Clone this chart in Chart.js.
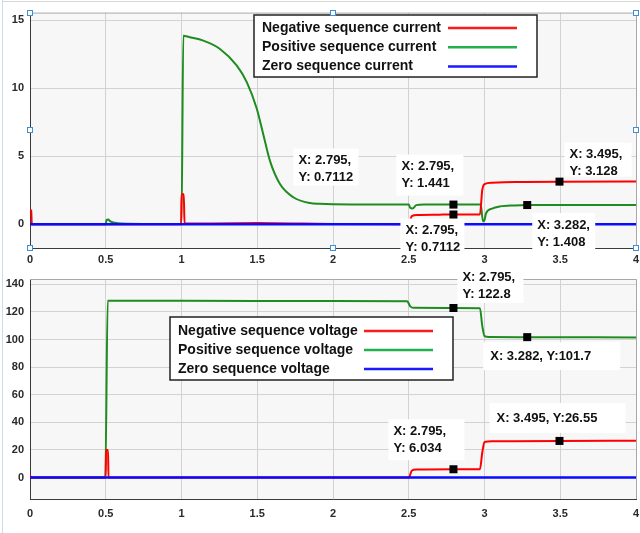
<!DOCTYPE html>
<html>
<head>
<meta charset="utf-8">
<script src="https://cdn.jsdelivr.net/npm/chart.js@4.4.0/dist/chart.umd.min.js"></script>
<style>
  html, body { margin: 0; padding: 0; background: #fff; }
  #page { position: relative; width: 640px; height: 533px; overflow: hidden; }
  #page:before { content: ''; position: absolute; left: 2px; top: 0; bottom: 0; border-left: 1px solid #c9dcf0; }
  #page:after { content: ''; position: absolute; left: 2px; right: 0; top: 1px; border-top: 1px solid #d6d6d6; }
  canvas { position: absolute; left: 0; }
  #currentChart { top: 0; }
  #voltageChart { top: 266px; }
</style>
</head>
<body>
<div id="page">
  <canvas id="currentChart" width="640" height="266"></canvas>
  <canvas id="voltageChart" width="640" height="267"></canvas>
</div>
<script>
// ---- sequence currents (A) ----
var negCurrentT = [0, 0.008, 0.012, 0.998, 1.0, 1.015, 1.02, 1.2, 1.5, 1.8, 2.0, 2.5, 2.52, 2.56, 2.7, 2.795, 2.97, 2.985, 3.0, 3.05, 3.2, 3.495, 4];
var negCurrentI = [1.05, 1.0, 0, 0, 2.2, 2.2, 0.05, 0.05, 0.08, 0.05, 0.02, 0, 0.6, 0.68, 0.7, 0.7112, 0.72, 2.5, 2.95, 3.05, 3.1, 3.128, 3.13];

var posCurrentT = [0, 0.5, 0.505, 0.515, 0.53, 0.56, 0.6, 0.8, 1.0, 1.012, 1.05, 1.144, 1.254, 1.364, 1.43, 1.496, 1.54, 1.584, 1.65, 1.738, 1.848, 1.914, 2.0, 2.3, 2.5, 2.51, 2.525, 2.55, 2.6, 2.795, 2.975, 2.99, 3.0, 3.01, 3.05, 3.1, 3.2, 3.282, 3.5, 4];
var posCurrentI = [0, 0, 0.3, 0.35, 0.2, 0.1, 0.05, 0.02, 0.02, 13.85, 13.75, 13.49, 12.88, 11.67, 10.46, 8.52, 6.59, 4.65, 2.95, 1.98, 1.55, 1.5, 1.47, 1.45, 1.45, 1.2, 1.15, 1.4, 1.44, 1.441, 1.44, 0.2, 0.3, 0.8, 1.15, 1.3, 1.38, 1.408, 1.41, 1.41];

var zeroCurrentT = [0, 4];
var zeroCurrentI = [0, 0];

// ---- sequence voltages (V) ----
var negVoltageT = [0, 0.005, 0.5, 0.502, 0.515, 0.518, 2.5, 2.52, 2.55, 2.795, 2.97, 2.985, 3.0, 3.05, 3.495, 4];
var negVoltageV = [2, 0, 0, 20, 20, 0, 0, 5, 5.8, 6.034, 6.1, 18, 25.8, 26.3, 26.55, 26.6];

var posVoltageT = [0, 0.497, 0.513, 1.0, 2.0, 2.49, 2.51, 2.53, 2.795, 2.97, 2.985, 3.0, 3.03, 3.282, 4];
var posVoltageV = [0, 0, 128, 128, 127.8, 127.6, 124, 122.9, 122.8, 122.7, 110, 102.5, 101.8, 101.7, 101.5];

var zeroVoltageT = [0, 4];
var zeroVoltageV = [0, 0];

// ---- axes ----
var timeTicks = [0, 0.5, 1, 1.5, 2, 2.5, 3, 3.5, 4];
var currentTicks = [0, 5, 10, 15];
var voltageTicks = [0, 20, 40, 60, 80, 100, 120, 140];

// ---- data cursors ----
var currentTipX = [2.795, 2.795, 3.495, 3.282];
var currentTipY = [1.441, 0.7112, 3.128, 1.408];
var voltageTipX = [2.795, 3.282, 3.495, 2.795];
var voltageTipY = [122.8, 101.7, 26.55, 6.034];

var RED = '#ff0000', GREEN = '#1e8c1e', BLUE = '#0a0aff';
var TICK_FONT = { family: '"Liberation Sans", Arial, sans-serif', size: 11, weight: 'bold' };
var TEXT_FONT = 'bold 13px "Liberation Sans", Arial, sans-serif';

function pts(t, v) {
  return t.map(function (x, i) { return { x: x, y: v[i] }; });
}

function line(label, t, v, color, order, width) {
  return {
    label: label,
    data: pts(t, v),
    borderColor: color,
    borderWidth: width || 2,
    pointRadius: 0,
    cubicInterpolationMode: 'monotone',
    order: order
  };
}

function markers(xs, ys) {
  return {
    label: 'cursor',
    data: pts(xs, ys),
    showLine: false,
    pointStyle: 'rect',
    pointRadius: 4,
    pointBackgroundColor: '#000',
    pointBorderColor: '#000',
    pointBorderWidth: 0,
    order: -1
  };
}

// plot background, box edges, legend, cursor labels and selection handles
var decor = {
  id: 'decor',
  beforeDraw: function (chart) {
    var a = chart.chartArea, ctx = chart.ctx;
    ctx.save();
    ctx.fillStyle = '#f7f7f7';
    ctx.fillRect(a.left, a.top, a.right - a.left, a.bottom - a.top);
    ctx.restore();
  },
  afterDraw: function (chart, args, opts) {
    var a = chart.chartArea, ctx = chart.ctx;
    ctx.save();

    // top and right edges of the axes box
    ctx.strokeStyle = '#a8a8a8';
    ctx.lineWidth = 1;
    ctx.beginPath();
    ctx.moveTo(a.left, a.top + 0.5);
    ctx.lineTo(a.right + 0.5, a.top + 0.5);
    ctx.lineTo(a.right + 0.5, a.bottom);
    ctx.stroke();

    // cursor labels
    var last = chart.data.datasets.length - 1;
    var mk = chart.getDatasetMeta(last).data;
    ctx.font = TEXT_FONT;
    ctx.textBaseline = 'middle';
    ctx.textAlign = 'left';
    opts.tips.forEach(function (b) {
      var p = mk[b.tip];
      var d = chart.data.datasets[last].data[b.tip];
      var bx = p.x + b.dx, by = p.y + b.dy;
      ctx.fillStyle = '#fff';
      ctx.fillRect(bx, by, b.w, b.h);
      ctx.fillStyle = '#111';
      if (b.oneLine) {
        ctx.fillText('X: ' + d.x + ', Y:' + d.y, bx + 7, by + b.h / 2);
      } else {
        ctx.fillText('X: ' + d.x + ',', bx + 5, by + 12);
        ctx.fillText('Y: ' + d.y, bx + 5, by + 29);
      }
    });

    // markers stay above the label boxes
    mk.forEach(function (p) {
      ctx.fillStyle = '#000';
      ctx.fillRect(p.x - 4, p.y - 4, 8, 8);
    });

    // legend
    var L = opts.legend;
    ctx.fillStyle = '#fff';
    ctx.fillRect(L.x, L.y, L.w, L.h);
    ctx.strokeStyle = '#222';
    ctx.lineWidth = 1.5;
    ctx.strokeRect(L.x, L.y, L.w, L.h);
    ctx.font = 'bold 14px "Liberation Sans", Arial, sans-serif';
    L.rows.forEach(function (r, i) {
      var ry = L.y + L.first + i * L.step;
      ctx.fillStyle = '#111';
      ctx.fillText(r.text, L.x + 8, ry);
      ctx.strokeStyle = r.color;
      ctx.lineWidth = 2.5;
      ctx.beginPath();
      ctx.moveTo(L.x + 194, ry);
      ctx.lineTo(L.x + 263, ry);
      ctx.stroke();
    });

    // selection handles
    if (opts.handles) {
      var mx = (a.left + a.right) / 2, my = (a.top + a.bottom) / 2;
      var hs = [[a.left, a.top], [mx, a.top], [a.right, a.top], [a.left, my], [a.right, my], [a.left, a.bottom], [mx, a.bottom], [a.right, a.bottom]];
      ctx.lineWidth = 1;
      hs.forEach(function (h) {
        ctx.fillStyle = '#fff';
        ctx.fillRect(Math.round(h[0]) - 3, Math.round(h[1]) - 3, 6, 6);
        ctx.strokeStyle = '#3d8fd6';
        ctx.strokeRect(Math.round(h[0]) - 2.5, Math.round(h[1]) - 2.5, 5, 5);
      });
    }
    ctx.restore();
  }
};

function makeChart(id, datasets, yMin, yMax, yTicks, pad, xAxisH, xPad, decorOpts) {
  return new Chart(document.getElementById(id), {
    type: 'line',
    data: { datasets: datasets },
    plugins: [decor],
    options: {
      responsive: false,
      animation: false,
      layout: { padding: pad },
      scales: {
        x: {
          type: 'linear',
          min: 0,
          max: 4,
          afterBuildTicks: function (s) { s.ticks = timeTicks.map(function (v) { return { value: v }; }); },
          afterFit: function (s) {
            s.height = xAxisH;
            s.paddingLeft = 0;
            s.paddingRight = 0;
          },
          grid: { color: '#d2d2d2', drawTicks: false },
          border: { color: '#3a3a3a', width: 1 },
          ticks: {
            padding: xPad, color: '#2a2a2a', font: TICK_FONT, maxRotation: 0, autoSkip: false,
            callback: function (v) { return String(v); }
          }
        },
        y: {
          min: yMin,
          max: yMax,
          afterBuildTicks: function (s) { s.ticks = yTicks.map(function (v) { return { value: v }; }); },
          afterFit: function (s) { s.width = 30; },
          grid: { color: '#d2d2d2', drawTicks: false },
          border: { color: '#3a3a3a', width: 1 },
          ticks: { padding: 6, color: '#2a2a2a', font: TICK_FONT, callback: function (v) { return String(v); } }
        }
      },
      plugins: {
        legend: { display: false },
        tooltip: { enabled: false },
        decor: decorOpts
      }
    }
  });
}

makeChart('currentChart', [
  line('Negative sequence current', negCurrentT, negCurrentI, RED, 1),
  line('Positive sequence current', posCurrentT, posCurrentI, GREEN, 2),
  line('Zero sequence current', zeroCurrentT, zeroCurrentI, BLUE, 0, 2.5),
  markers(currentTipX, currentTipY)
], -1.75, 15.55, currentTicks, { left: 0, right: 4, top: 10, bottom: 0 }, 18, 5, {
  handles: true,
  legend: {
    x: 254, y: 15, w: 283, h: 62, first: 13, step: 19.3,
    rows: [
      { text: 'Negative sequence current', color: '#ff1a1a' },
      { text: 'Positive sequence current', color: '#22b14c' },
      { text: 'Zero sequence current', color: '#1a1aff' }
    ]
  },
  tips: [
    { tip: 1, dx: -160, dy: -66, w: 65, h: 37 },
    { tip: 0, dx: -57, dy: -50, w: 67, h: 41 },
    { tip: 2, dx: 5, dy: -39, w: 67, h: 34 },
    { tip: 1, dx: -53, dy: 4, w: 64, h: 34 },
    { tip: 3, dx: 5, dy: 8, w: 63, h: 37 }
  ]
});

makeChart('voltageChart', [
  line('Negative sequence voltage', negVoltageT, negVoltageV, RED, 1),
  line('Positive sequence voltage', posVoltageT, posVoltageV, GREEN, 2),
  line('Zero sequence voltage', zeroVoltageT, zeroVoltageV, BLUE, 0, 2.5),
  markers(voltageTipX, voltageTipY)
], -15.5, 143.8, voltageTicks, { left: 0, right: 4, top: 13, bottom: 0 }, 34, 8, {
  handles: false,
  legend: {
    x: 170, y: 51, w: 283, h: 63, first: 14, step: 19,
    rows: [
      { text: 'Negative sequence voltage', color: '#ff1a1a' },
      { text: 'Positive sequence voltage', color: '#22b14c' },
      { text: 'Zero sequence voltage', color: '#1a1aff' }
    ]
  },
  tips: [
    { tip: 0, dx: 4, dy: -43, w: 66, h: 38 },
    { tip: 1, dx: -44, dy: 5, w: 137, h: 28, oneLine: true },
    { tip: 2, dx: -70, dy: -38, w: 136, h: 30, oneLine: true },
    { tip: 3, dx: -65, dy: -50, w: 76, h: 41 }
  ]
});
</script>
</body>
</html>
